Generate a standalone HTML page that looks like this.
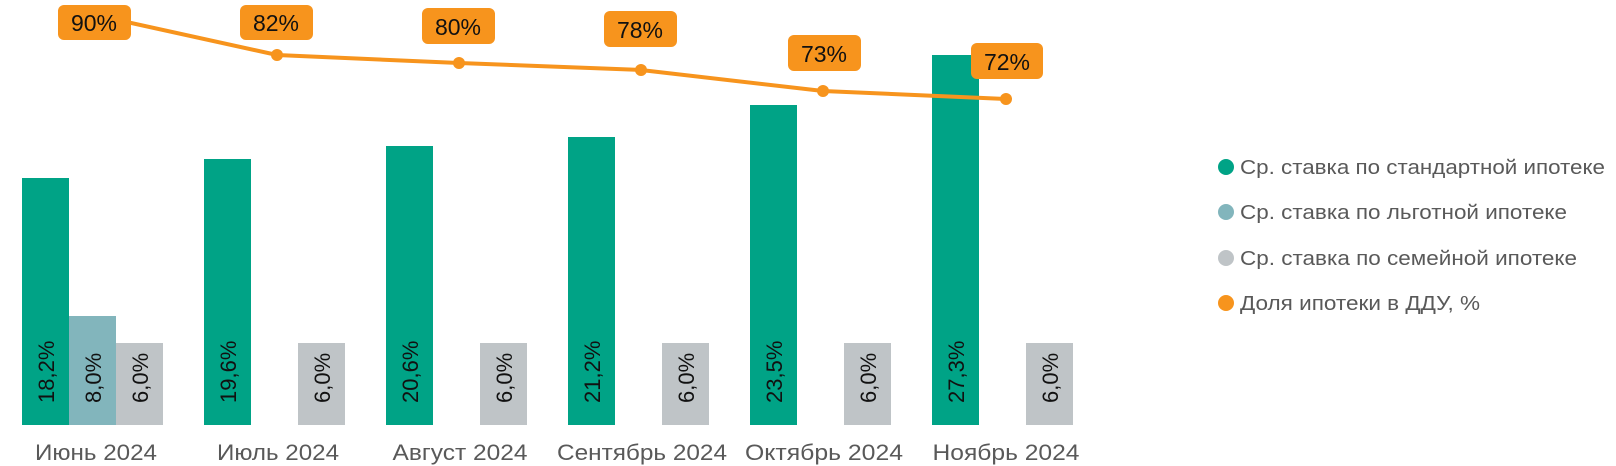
<!DOCTYPE html>
<html><head><meta charset="utf-8"><style>
html,body{margin:0;padding:0;background:#fff;}
svg{display:block;font-family:"Liberation Sans",sans-serif;}
</style></head><body>
<svg width="1616" height="466" viewBox="0 0 1616 466" xmlns="http://www.w3.org/2000/svg">
<g>
<rect x="22" y="178" width="47" height="247" fill="#00A386"/>
<rect x="69" y="316" width="47" height="109" fill="#82B5BC"/>
<rect x="116" y="343" width="47" height="82" fill="#BFC4C7"/>
<rect x="204" y="159" width="47" height="266" fill="#00A386"/>
<rect x="298" y="343" width="47" height="82" fill="#BFC4C7"/>
<rect x="386" y="146" width="47" height="279" fill="#00A386"/>
<rect x="480" y="343" width="47" height="82" fill="#BFC4C7"/>
<rect x="568" y="137" width="47" height="288" fill="#00A386"/>
<rect x="662" y="343" width="47" height="82" fill="#BFC4C7"/>
<rect x="750" y="105" width="47" height="320" fill="#00A386"/>
<rect x="844" y="343" width="47" height="82" fill="#BFC4C7"/>
<rect x="932" y="55" width="47" height="370" fill="#00A386"/>
<rect x="1026" y="343" width="47" height="82" fill="#BFC4C7"/>
</g>
<g font-size="22" fill="#111">
<text transform="translate(54,403) rotate(-90)">18,2%</text>
<text transform="translate(101,403) rotate(-90)">8,0%</text>
<text transform="translate(148,403) rotate(-90)">6,0%</text>
<text transform="translate(236,403) rotate(-90)">19,6%</text>
<text transform="translate(330,403) rotate(-90)">6,0%</text>
<text transform="translate(418,403) rotate(-90)">20,6%</text>
<text transform="translate(512,403) rotate(-90)">6,0%</text>
<text transform="translate(600,403) rotate(-90)">21,2%</text>
<text transform="translate(694,403) rotate(-90)">6,0%</text>
<text transform="translate(782,403) rotate(-90)">23,5%</text>
<text transform="translate(876,403) rotate(-90)">6,0%</text>
<text transform="translate(964,403) rotate(-90)">27,3%</text>
<text transform="translate(1058,403) rotate(-90)">6,0%</text>
</g>
<g font-size="22" fill="#595959" text-anchor="middle">
<text x="96" y="460" textLength="122" lengthAdjust="spacingAndGlyphs">Июнь 2024</text>
<text x="278" y="460" textLength="122" lengthAdjust="spacingAndGlyphs">Июль 2024</text>
<text x="460" y="460" textLength="135" lengthAdjust="spacingAndGlyphs">Август 2024</text>
<text x="642" y="460" textLength="170" lengthAdjust="spacingAndGlyphs">Сентябрь 2024</text>
<text x="824" y="460" textLength="158" lengthAdjust="spacingAndGlyphs">Октябрь 2024</text>
<text x="1006" y="460" textLength="147" lengthAdjust="spacingAndGlyphs">Ноябрь 2024</text>
</g>
<polyline points="95,15 277,55 459,63 641,70 823,91 1006,99" fill="none" stroke="#F7941D" stroke-width="4"/>
<g fill="#F7941D">
<circle cx="277" cy="55" r="6"/><circle cx="459" cy="63" r="6"/><circle cx="641" cy="70" r="6"/><circle cx="823" cy="91" r="6"/><circle cx="1006" cy="99" r="6"/>
<rect x="58" y="5" width="73" height="35" rx="6"/>
<rect x="240" y="5" width="73" height="35" rx="6"/>
<rect x="422" y="8" width="73" height="36" rx="6"/>
<rect x="604" y="11" width="73" height="36" rx="6"/>
<rect x="788" y="35" width="73" height="36" rx="6"/>
<rect x="971" y="43" width="72" height="36" rx="6"/>
</g>
<g font-size="23" fill="#111" text-anchor="middle">
<text x="94" y="31">90%</text>
<text x="276" y="31">82%</text>
<text x="458" y="35">80%</text>
<text x="640" y="38">78%</text>
<text x="824" y="62">73%</text>
<text x="1007" y="70">72%</text>
</g>
<circle cx="1226" cy="167" r="8" fill="#00A386"/>
<circle cx="1226" cy="212" r="8" fill="#82B5BC"/>
<circle cx="1226" cy="258" r="8" fill="#BFC4C7"/>
<circle cx="1226" cy="303" r="8" fill="#F7941D"/>
<g font-size="20" fill="#595959">
<text x="1240" y="174" textLength="365" lengthAdjust="spacingAndGlyphs">Ср. ставка по стандартной ипотеке</text>
<text x="1240" y="219" textLength="327" lengthAdjust="spacingAndGlyphs">Ср. ставка по льготной ипотеке</text>
<text x="1240" y="265" textLength="337" lengthAdjust="spacingAndGlyphs">Ср. ставка по семейной ипотеке</text>
<text x="1240" y="310" textLength="240" lengthAdjust="spacingAndGlyphs">Доля ипотеки в ДДУ, %</text>
</g>
</svg>
</body></html>
